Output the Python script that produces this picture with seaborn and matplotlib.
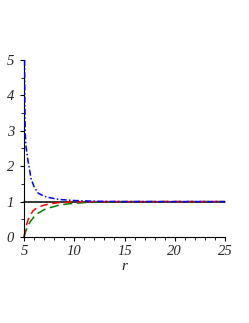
import numpy as np
import pandas as pd
import matplotlib
matplotlib.use("Agg")
import matplotlib.pyplot as plt
from matplotlib.ticker import MultipleLocator
import seaborn as sns

# values
r_blue = [5.06, 5.08, 5.1, 5.13, 5.2, 5.4, 5.7, 6.0, 6.4, 7.0, 7.7, 8.5, 10, 12, 15, 25]
y_blue = [5.0, 4.0, 3.4, 2.9, 2.55, 2.15, 1.65, 1.42, 1.24, 1.15, 1.1, 1.06, 1.03, 1.01, 1.0, 1.0]

r_red = [5, 5.2, 5.4, 5.6, 5.9, 6.3, 7.0, 7.7, 8.5, 10, 12, 25]
y_red = [0, 0.3, 0.48, 0.6, 0.74, 0.83, 0.9, 0.94, 0.97, 0.99, 1.0, 1.0]

r_green = [5, 5.1, 5.25, 5.5, 5.75, 6.0, 6.4, 7.0, 7.5, 8.5, 9.5, 11, 13, 15, 25]
y_green = [0, 0.1, 0.22, 0.38, 0.48, 0.57, 0.67, 0.77, 0.82, 0.9, 0.94, 0.97, 0.99, 1.0, 1.0]

r_black = [5, 25]
y_black = [1, 1]

x_ticks = [5, 10, 15, 20, 25]
y_ticks = [0, 1, 2, 3, 4, 5]

sns.set_style("white")
plt.rcParams['font.family'] = ['Liberation Serif', 'DejaVu Serif']

fig = plt.figure(figsize=(2.49, 3.23), dpi=100)
ax = fig.add_axes([0.0964, 0.2663, 0.8072, 0.548])

sns.lineplot(x=r_black, y=y_black, ax=ax, color='black', linewidth=1.1, sort=False)
sns.lineplot(x=r_green, y=y_green, ax=ax, color='#007f00', linewidth=1.1,
             linestyle=(0, (6, 3)), sort=False)
sns.lineplot(x=r_red, y=y_red, ax=ax, color='#ff0000', linewidth=1.1,
             linestyle=(0, (5, 3)), sort=False)
sns.lineplot(x=r_blue, y=y_blue, ax=ax, color='#0000ff', linewidth=1.1,
             linestyle=(0, (4, 1.5, 1, 1.5)), sort=False, zorder=5)
for line in ax.lines:
    line.set_clip_on(False)

ax.set_xlim(5, 25)
ax.set_ylim(0, 5)
ax.set_xticks(x_ticks)
ax.set_yticks(y_ticks)
ax.xaxis.set_minor_locator(MultipleLocator(1))
ax.yaxis.set_minor_locator(MultipleLocator(0.5))
ax.tick_params(axis='both', which='major', length=3, width=0.8, color='black',
               labelsize=10.5, pad=4, direction='out')
ax.tick_params(axis='both', which='minor', length=2, width=0.6, color='black',
               direction='out')
ax.tick_params(axis='x', bottom=True, which='both', pad=3)
ax.tick_params(axis='y', left=True, which='both')
for lab in ax.get_xticklabels() + ax.get_yticklabels():
    lab.set_fontstyle('italic')

for side in ['top', 'right']:
    ax.spines[side].set_visible(False)
for side in ['left', 'bottom']:
    ax.spines[side].set_color('black')
    ax.spines[side].set_linewidth(0.8)

ax.set_xlabel('r', fontsize=11, fontstyle='italic', labelpad=1)
ax.set_ylabel('')

fig.savefig('out.png', dpi=100)
